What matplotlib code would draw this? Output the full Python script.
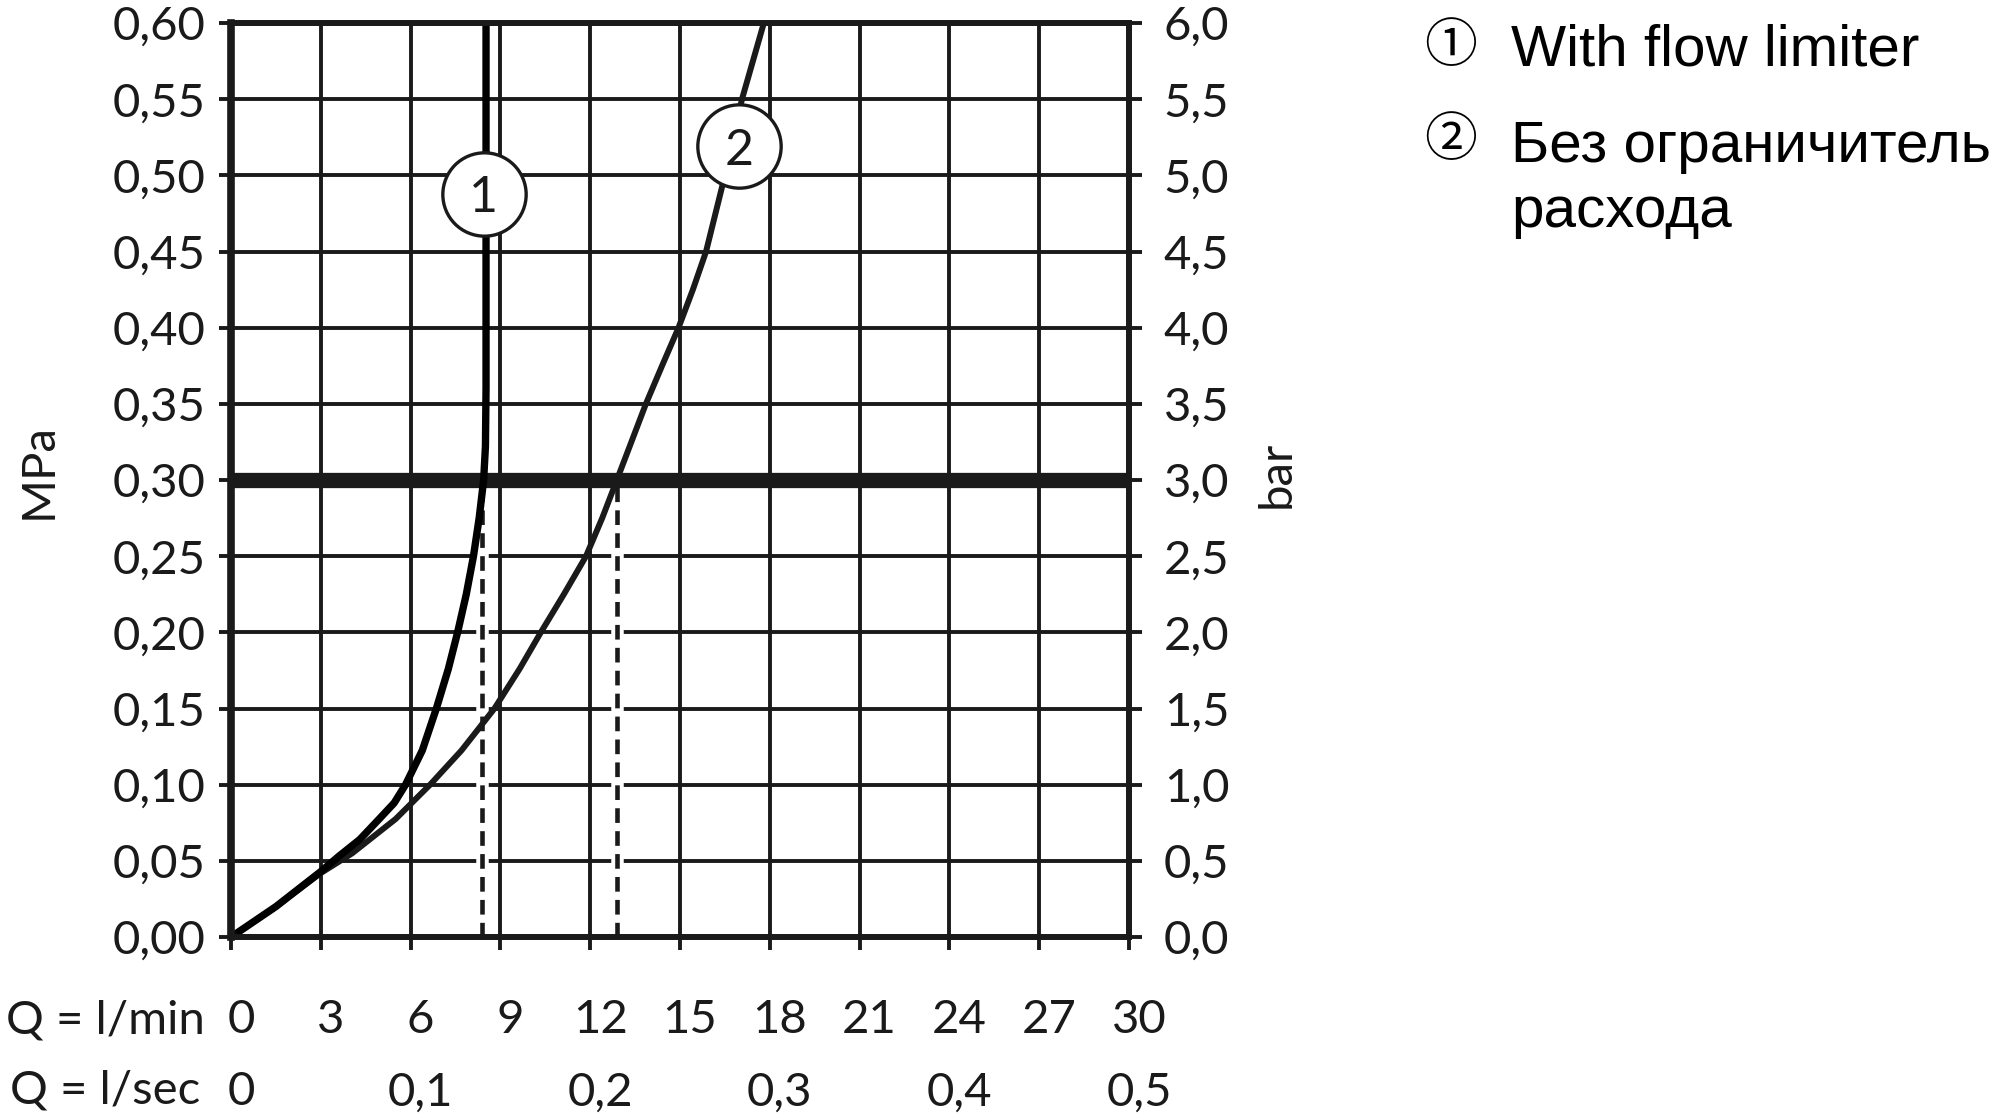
import matplotlib
matplotlib.use("Agg")
import matplotlib.pyplot as plt
import matplotlib.transforms as mtransforms

# ---------------- data ----------------
flow_ticks = [0, 3, 6, 9, 12, 15, 18, 21, 24, 27, 30]
flow_labels = ["0", "3", "6", "9", "12", "15", "18", "21", "24", "27", "30"]
sec_ticks = [0, 6, 12, 18, 24, 30]            # positions in l/min
sec_labels = ["0", "0,1", "0,2", "0,3", "0,4", "0,5"]
mpa_ticks = [0.00, 0.05, 0.10, 0.15, 0.20, 0.25, 0.30, 0.35, 0.40, 0.45, 0.50, 0.55, 0.60]
mpa_labels = ["0,00", "0,05", "0,10", "0,15", "0,20", "0,25", "0,30",
              "0,35", "0,40", "0,45", "0,50", "0,55", "0,60"]
bar_ticks = [0.0, 0.5, 1.0, 1.5, 2.0, 2.5, 3.0, 3.5, 4.0, 4.5, 5.0, 5.5, 6.0]
bar_labels = ["0,0", "0,5", "1,0", "1,5", "2,0", "2,5", "3,0",
              "3,5", "4,0", "4,5", "5,0", "5,5", "6,0"]

# curve 1: with flow limiter
c1_q = [0, 1.5, 3.0, 3.6, 4.3, 4.95, 5.45, 5.83, 6.39, 6.86, 7.26, 7.57, 7.86, 8.1,
        8.29, 8.44, 8.5, 8.52, 8.52]
c1_p = [0, 0.02, 0.043, 0.053, 0.064, 0.0775, 0.088, 0.10, 0.1225, 0.15, 0.176, 0.20,
        0.225, 0.25, 0.275, 0.30, 0.322, 0.36, 0.60]
# curve 2: without flow limiter
c2_q = [0, 1.5, 3.0, 4.05, 5.5, 6.65, 7.7, 8.8, 9.64, 10.35, 11.12, 11.86, 12.4, 12.89,
        13.86, 14.4, 14.95, 15.43, 15.87, 16.5, 17.07, 17.8]
c2_p = [0, 0.02, 0.042, 0.055, 0.0775, 0.10, 0.1225, 0.15, 0.176, 0.20, 0.225, 0.25,
        0.275, 0.30, 0.35, 0.375, 0.40, 0.425, 0.45, 0.50, 0.55, 0.60]

ref_pressure = 0.30
limit_q = [8.4, 12.9]          # flow at reference pressure (dashed drop lines)
marker_q = [8.44, 16.96]
marker_p = [0.488, 0.519]
marker_text = ["1", "2"]

legend_marks = ["\u2460", "\u2461"]
legend_lines = ["With flow limiter", "Без ограничитель", "расхода"]

# ---------------- style ----------------
INK = "#1a1a1a"
TICKFONT = ["Lato", "DejaVu Sans"]
LEGFONT = ["Liberation Sans", "DejaVu Sans"]
MARKFONT = ["Noto Sans CJK JP", "DejaVu Sans"]
FS = 34
FW = "normal"

fig = plt.figure(figsize=(20, 11.15), dpi=100)
fig.patch.set_facecolor("white")
ax = fig.add_axes([0.1155, 0.1596, 0.449, 0.8197])
ax.set_xlim(0, 30)
ax.set_ylim(0, 0.60)

# grid
for q in flow_ticks:
    ax.axvline(q, color=INK, lw=2.8, zorder=1)
for p in mpa_ticks:
    ax.axhline(p, color=INK, lw=2.8, zorder=1)

# reference pressure line
ax.axhline(ref_pressure, color=INK, lw=11, zorder=3, solid_capstyle="butt")

# dashed drop lines
for q in limit_q:
    ax.plot([q, q], [0, ref_pressure], color="white", lw=9, zorder=2, solid_capstyle="butt")
    ln, = ax.plot([q, q], [0, ref_pressure], color=INK, lw=3.3, zorder=2.5)
    ln.set_dashes((3.2, 1.8))

# curves
ax.plot(c2_q, c2_p, color=INK, lw=4.3, zorder=4, solid_joinstyle="round",
        solid_capstyle="round")
ax.plot(c1_q, c1_p, color="#000000", lw=5.3, zorder=4, solid_joinstyle="round",
        solid_capstyle="round")

# curve markers
ax.plot(marker_q, marker_p, "o", ms=60, mfc="white", mec=INK, mew=2.4, zorder=8, clip_on=False)
for q, p, t in zip(marker_q, marker_p, marker_text):
    ax.text(q, p, t, ha="center", va="center_baseline", fontsize=36, family=TICKFONT,
            fontweight=FW, color=INK, zorder=9)

# spines
for s in ax.spines.values():
    s.set_linewidth(4.3)
    s.set_color(INK)
    s.set_zorder(5)
ax.spines["left"].set_linewidth(5.5)

# left ticks
ax.set_yticks(mpa_ticks)
ax.set_yticklabels(mpa_labels, family=TICKFONT, fontsize=FS, fontweight=FW, color=INK)
ax.tick_params(axis="y", direction="out", length=9, width=2.8, pad=9.4, color=INK)

# bottom ticks, labels drawn manually
ax.set_xticks(flow_ticks)
ax.set_xticklabels([])
ax.tick_params(axis="x", direction="out", length=9, width=2.8, color=INK)

off = mtransforms.ScaledTranslation(10 / 100, 0, fig.dpi_scale_trans)
blend = mtransforms.blended_transform_factory(ax.transData, ax.transAxes) + off
for q, lab in zip(flow_ticks, flow_labels):
    ax.text(q, -0.105, lab, transform=blend, ha="center", va="baseline",
            fontsize=FS, family=TICKFONT, fontweight=FW, color=INK, clip_on=False)
for q, lab in zip(sec_ticks, sec_labels):
    ax.text(q, -0.184, lab, transform=blend, ha="center", va="baseline",
            fontsize=FS, family=TICKFONT, fontweight=FW, color=INK, clip_on=False)
fig.text(205 / 2000, 1 - 1033 / 1115, "Q = l/min", ha="right", va="baseline",
         fontsize=FS, family=TICKFONT, fontweight=FW, color=INK)
fig.text(200 / 2000, 1 - 1104 / 1115, "Q = l/sec", ha="right", va="baseline",
         fontsize=FS, family=TICKFONT, fontweight=FW, color=INK)

# right axis
ax2 = ax.twinx()
ax2.set_ylim(0, 6)
ax2.set_yticks(bar_ticks)
ax2.set_yticklabels(bar_labels, family=TICKFONT, fontsize=FS, fontweight=FW, color=INK)
ax2.tick_params(axis="y", direction="out", length=9, width=2.8, pad=16, color=INK)
for s in ax2.spines.values():
    s.set_visible(False)

# axis names
fig.text(39 / 2000, 1 - 471 / 1115, "MPa", rotation=90, ha="center", va="center",
         fontsize=FS, family=TICKFONT, fontweight=FW, color=INK)
fig.text(1277 / 2000, 1 - 474 / 1115, "bar", rotation=90, ha="center", va="center",
         fontsize=FS, family=TICKFONT, fontweight=FW, color=INK)

# legend text
fig.text(1451 / 2000, 1 - 46 / 1115, legend_marks[0], ha="center", va="center",
         fontsize=38, family=MARKFONT, color="black")
fig.text(1451 / 2000, 1 - 140 / 1115, legend_marks[1], ha="center", va="center",
         fontsize=38, family=MARKFONT, color="black")
fig.text(1511 / 2000, 1 - 66 / 1115, legend_lines[0], ha="left", va="baseline",
         fontsize=42, family=LEGFONT, color="black")
fig.text(1511 / 2000, 1 - 162 / 1115, legend_lines[1], ha="left", va="baseline",
         fontsize=42, family=LEGFONT, color="black")
fig.text(1511 / 2000, 1 - 227 / 1115, legend_lines[2], ha="left", va="baseline",
         fontsize=42, family=LEGFONT, color="black")

fig.savefig("out.png", dpi=100, facecolor="white")
